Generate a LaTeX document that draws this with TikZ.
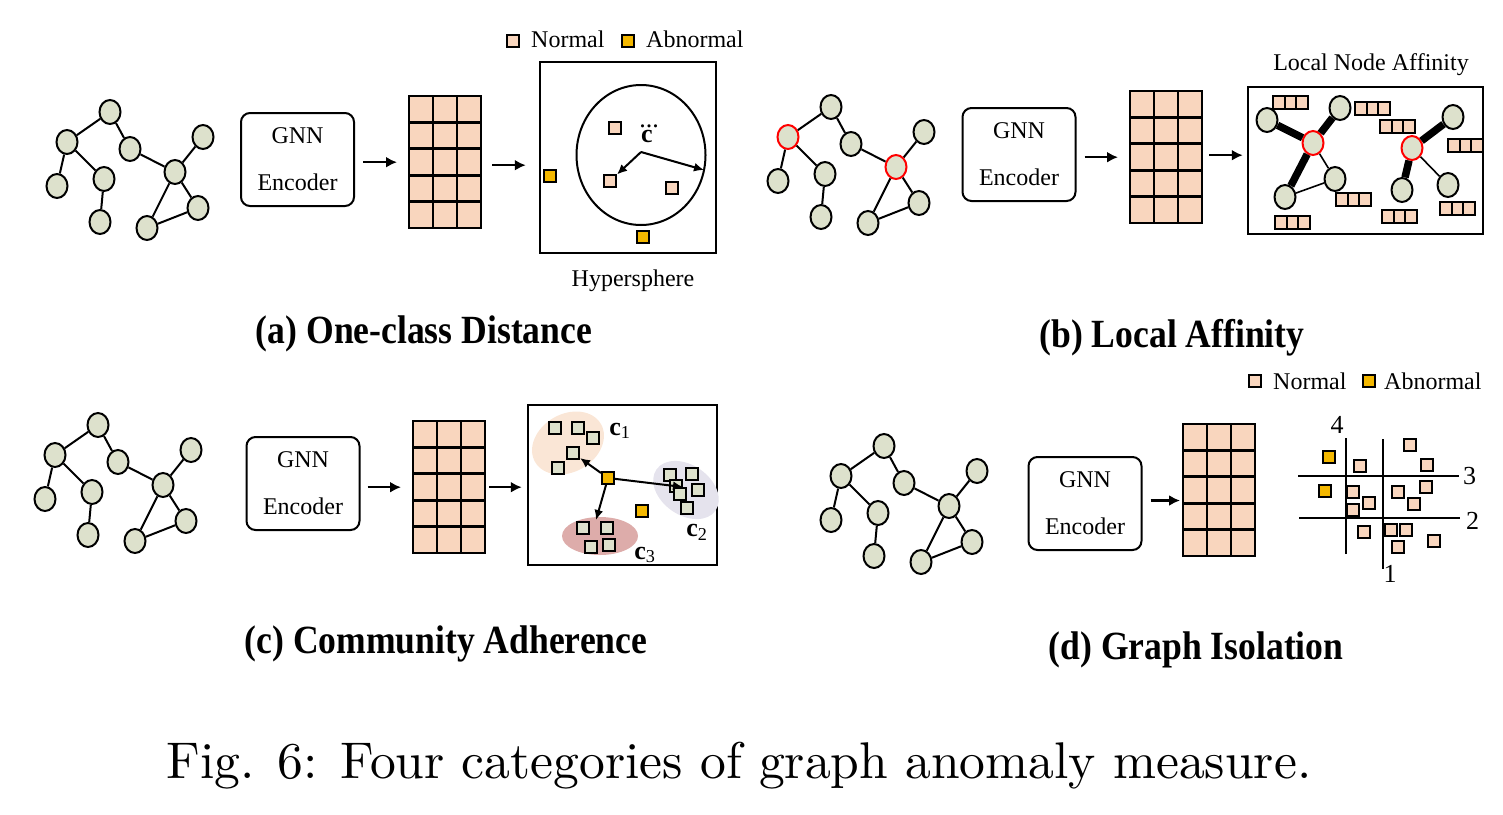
\documentclass[tikz,border=0pt]{standalone}
\usepackage{fontspec}
\setmainfont{Liberation Serif}
\newfontfamily\capfont{lmroman10-regular.otf}
\usepackage{amsmath}
\usetikzlibrary{shapes.geometric,arrows.meta,positioning,calc}

\definecolor{peach}{RGB}{249,214,190}
\definecolor{sage}{RGB}{221,225,204}
\definecolor{amber}{RGB}{244,184,0}
\definecolor{blush}{RGB}{250,230,214}
\definecolor{lilac}{RGB}{229,227,237}
\definecolor{rosy}{RGB}{221,172,170}

\tikzset{
  gnode/.style={ellipse,draw,line width=2pt,fill=sage,minimum width=21pt,minimum height=24pt,inner sep=0pt},
  hubb2/.style={draw=red},
  hubb7/.style={draw=red},
  gedge/.style={line width=2pt},
  thinedge/.style={line width=1.6pt},
  heavy/.style={line width=7.5pt},
  encbox/.style={draw,rounded corners=9pt,line width=2pt,minimum width=113pt,minimum height=93pt,align=center,font=\fontsize{24}{28}\selectfont},
  flow/.style={line width=2.5pt,-{Latex[length=11pt,width=11pt]}},
  ptr/.style={line width=2pt,-{Latex[length=10pt,width=9pt]}},
  panel/.style={draw,line width=2.5pt,inner sep=0pt},
  matline/.style={line width=2.8pt,line cap=rect},
  nsq/.style={draw,line width=2pt,fill=peach,minimum size=12pt,inner sep=0pt},
  asq/.style={nsq,fill=amber},
  csq/.style={nsq,fill=sage},
  txt/.style={font=\fontsize{24}{28}\selectfont,inner sep=0pt},
  clabel/.style={font=\fontsize{26}{30}\selectfont,inner sep=0pt},
  sublabel/.style={font=\fontsize{40}{44}\selectfont\bfseries,xscale=0.89,transform shape,inner sep=0pt},
}

\begin{document}
\begin{tikzpicture}[x=1pt,y=-1pt]
\useasboundingbox (0,0) rectangle (1503,814);
% the four input graphs
\foreach \p/\dx/\dy in {a/0/0,b/721/-5,c/-12/313,d/774/334}{
  \begin{scope}[shift={(\dx,\dy)}]
  \foreach \i/\gx/\gy in {1/110/112,2/67/142,3/130/149,4/203/137,5/57/186,6/104/179,7/175/172,8/198/208,9/100/222,10/147/228}
    \node[gnode,hub\p\i/.try] (g\p\i) at (\gx,\gy) {};
  \foreach \u/\v in {1/2,1/3,3/7,4/7,2/5,2/6,6/9,7/8,7/10,8/10}
    \draw[gedge] (g\p\u) -- (g\p\v);
  \end{scope}
}
% encoders
\node[encbox] (enca) at (297.5,159.5) {GNN\\[19pt]Encoder};
\node[encbox] (encb) at (1019,154.5) {GNN\\[19pt]Encoder};
\node[encbox] (encc) at (303,483.5) {GNN\\[19pt]Encoder};
\node[encbox] (encd) at (1085,503.5) {GNN\\[19pt]Encoder};
% embedding matrices
\foreach \p/\mx/\my in {a/409/96,b/1130/91,c/413/421,d/1183/424}{
  \node[inner sep=0pt,minimum width=72pt,minimum height=132pt,anchor=north west,fill=peach] (mat\p) at (\mx,\my) {};
  \foreach \k in {0,...,5} \draw[matline] (\mx,\my+26.4*\k) -- ++(72,0);
  \foreach \k in {0,...,3} \draw[matline] (\mx+24*\k,\my) -- ++(0,132);
}
% output panels
\node[panel,minimum width=176pt,minimum height=191pt] (hypa) at (628,157.5) {};
\node[panel,minimum width=235pt,minimum height=147pt] (affb) at (1365.5,160.5) {};
\node[panel,minimum width=189pt,minimum height=160pt] (comc) at (622.5,485) {};

\draw[flow] ($(mata.west -| enca.east)+(8,0)$) -- ($(mata.west)+(-12,0)$);
\draw[flow] ($(mata.east)+(11,3)$) -- ($(mata.east -| hypa.west)+(-13,3)$);
\draw[flow] ($(matb.west -| encb.east)+(8,0)$) -- ($(matb.west)+(-12,0)$);
\draw[flow] ($(matb.east)+(7,-2)$) -- ($(matb.east -| affb.west)+(-4,-2)$);
\draw[flow] ($(matc.west -| encc.east)+(7,0)$) -- ($(matc.west)+(-12,0)$);
\draw[flow] ($(matc.east)+(4,0)$) -- ($(matc.east -| comc.west)+(-5,0)$);
\draw[flow] ($(encd.east)+(8,-3)$) -- ($(encd.east -| matd.west)+(-3,-3)$);

% (a) hypersphere
\node[nsq] (lgan) at (513,41) {};
\node[txt,anchor=west] (lgatn) at (531,39) {Normal};
\node[asq] (lgaa) at (628,41) {};
\node[txt,anchor=west] (lgata) at (646,39) {Abnormal};
\node[draw,ellipse,line width=2pt,minimum width=129pt,minimum height=140pt] (sphere) at (641,155) {};
\node[clabel] (cdot) at (647,134) {$\dddot{\textbf{c}}$};
\coordinate (corg) at (641,152);
\coordinate (rim) at (704,170);
\node[nsq] (sqa1) at (615,128) {};
\node[nsq] (sqa2) at (610,181) {};
\node[nsq] (sqa3) at (672,188) {};
\node[asq] (sqa4) at (550,176) {};
\node[asq] (sqa5) at (643,237) {};
\draw[ptr] (corg) -- (sqa2);
\draw[ptr] (corg) -- (rim);
\node[txt] (hyptxt) at (633,281) {Hypersphere};
\node[sublabel] (suba) at (424,334) {(a) One-class Distance};

% (b) local affinity
\node[txt] (afftxt) at (1371,65) {Local Node Affinity};
\foreach \bx/\by in {1273/96,1355/102,1380/120,1448/139,1336/193,1440/202,1382/210,1275/216}{
  \filldraw[fill=peach,line width=2pt] (\bx,\by) rectangle ++(35,12.5);
  \draw[line width=2pt] (\bx+11.7,\by) -- ++(0,12.5) (\bx+23.3,\by) -- ++(0,12.5);
}
\node[gnode] (la1) at (1267,120) {};
\node[gnode] (la2) at (1340,108) {};
\node[gnode,draw=red] (lhub1) at (1313,143) {};
\node[gnode] (la3) at (1335,179) {};
\node[gnode] (la4) at (1285,197) {};
\node[gnode,draw=red] (lhub2) at (1412,148) {};
\node[gnode] (la5) at (1453,117) {};
\node[gnode] (la6) at (1402,190) {};
\node[gnode] (la7) at (1448,185) {};
\draw[heavy] (la1) -- (lhub1);
\draw[heavy] (la2) -- (lhub1);
\draw[heavy] (lhub1) -- (la4);
\draw[heavy] (lhub2) -- (la5);
\draw[heavy] (lhub2) -- (la6);
\draw[thinedge] (lhub1) -- (la3);
\draw[thinedge] (la3) -- (la4);
\draw[thinedge] (lhub2) -- (la7);
\node[sublabel] (subb) at (1172,338) {(b) Local Affinity};

% (c) community adherence
\node[ellipse,fill=blush,minimum width=76pt,minimum height=58pt,rotate=30] (clu1) at (568,443) {};
\node[ellipse,fill=lilac,minimum width=72pt,minimum height=50pt,rotate=-35] (clu2) at (686,490) {};
\node[ellipse,fill=rosy,minimum width=76pt,minimum height=38pt] (clu3) at (600,536) {};
\foreach \i/\sx/\sy in {1/555/428,2/578/428,3/593/438,4/573/453,5/558/468}
  \node[csq] (ca\i) at (\sx,\sy) {};
\foreach \i/\sx/\sy in {1/670/475,2/692/474,3/676/486,4/698/490,5/680/494,6/687/508}
  \node[csq] (cb\i) at (\sx,\sy) {};
\foreach \i/\sx/\sy in {1/583/528,2/607/528,3/591/547,4/609/545}
  \node[csq] (cc\i) at (\sx,\sy) {};
\node[asq] (cab) at (608,478) {};
\node[asq] (cab2) at (642,511) {};
\coordinate (c2tip) at (683,487);
\coordinate (c3tip) at (596,520);
\draw[ptr] (cab) -- (ca4);
\draw[ptr] (cab) -- (c2tip);
\draw[ptr] (cab) -- (c3tip);
\node[clabel] (cl1) at (620,431) {\textbf{c}\textsubscript{1}};
\node[clabel] (cl2) at (697,532) {\textbf{c}\textsubscript{2}};
\node[clabel] (cl3) at (645,555) {\textbf{c}\textsubscript{3}};
\node[sublabel] (subc) at (446,644) {(c) Community Adherence};

% (d) graph isolation
\node[nsq] (lgdn) at (1255,381) {};
\node[txt,anchor=west] (lgdtn) at (1273,381) {Normal};
\node[asq] (lgda) at (1369,381) {};
\node[txt,anchor=west] (lgdta) at (1384,381) {Abnormal};
\draw[gedge] (1298,476) -- (1459,476) node[clabel,anchor=west,xshift=3pt] (cut3) {3};
\draw[gedge] (1299,518) -- (1460,518) node[clabel,anchor=west,xshift=5pt,yshift=-3pt] (cut2) {2};
\draw[gedge] (1346,554) -- (1346,438) node[clabel,anchor=south,xshift=-9pt,yshift=4pt] (cut4) {4};
\draw[gedge] (1383,439) -- (1383,569) node[clabel,anchor=north,xshift=7pt,yshift=5pt] (cut1) {1};
\node[asq] (isa1) at (1329,457) {};
\node[asq] (isa2) at (1325,491) {};
\foreach \i/\sx/\sy in {1/1360/466,2/1410/445,3/1427/465,4/1353/492,5/1369/503,6/1353/510,7/1398/492,8/1426/487,9/1414/504,10/1364/532,11/1391/530,12/1406/530,13/1398/547,14/1434/541}
  \node[nsq] (isn\i) at (\sx,\sy) {};
\node[sublabel] (subd) at (1196,650) {(d) Graph Isolation};

\node[font=\capfont\fontsize{51.6}{60}\selectfont,inner sep=0pt] (figcap) at (739,766) {Fig. 6: Four categories of graph anomaly measure.};
\end{tikzpicture}
\end{document}
